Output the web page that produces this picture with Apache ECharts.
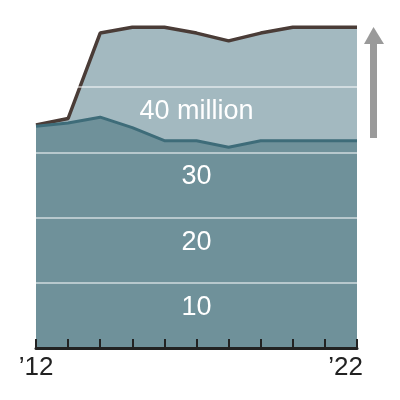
<!DOCTYPE html>
<html><head><meta charset="utf-8">
<script src="https://cdn.jsdelivr.net/npm/echarts@6/dist/echarts.min.js"></script>
<style>html,body{margin:0;padding:0;background:#fff}#c{width:400px;height:400px}</style>
</head><body><div id="c"></div>
<script>
const years = ['2012','2013','2014','2015','2016','2017','2018','2019','2020','2021','2022'];
const xTickLabels = {'2012':'\u201912','2022':'\u201922'};
const totalValues = [34.2, 35.2, 48.3, 49.2, 49.2, 48.3, 47.1, 48.3, 49.2, 49.2, 49.2];
const baseValues  = [34.0, 34.5, 35.4, 33.8, 31.8, 31.8, 30.8, 31.8, 31.8, 31.8, 31.8];
const gridValues = [10, 20, 30, 40];
const gridLabels = ['10', '20', '30', '40 million'];

const chart = echarts.init(document.getElementById('c'), null, {renderer:'canvas'});
const font = '"Liberation Sans", Arial, sans-serif';
chart.setOption({
  animation: false,
  grid: {left: 36, right: 43, top: 22, bottom: 52},
  xAxis: {
    type: 'category', data: years, boundaryGap: false, z: 10,
    axisLine: {show: true, lineStyle: {color: '#222', width: 3}},
    axisTick: {show: true, inside: true, length: 9, lineStyle: {color: '#222', width: 2}, interval: 0},
    axisLabel: {
      interval: 0, margin: 7, fontSize: 26, color: '#222', fontFamily: font,
      formatter: v => v === years[years.length - 1] ? '{e|' + xTickLabels[v] + '}' : (xTickLabels[v] || ''),
      rich: {e: {fontSize: 26, color: '#222', fontFamily: font, padding: [0, 23, 0, 0]}}
    },
    splitLine: {show: false}
  },
  yAxis: {type: 'value', min: 0, max: 50, show: false, splitLine: {show: false}},
  series: [
    {
      type: 'line', data: totalValues, symbol: 'none', z: 2,
      lineStyle: {color: '#4a3c37', width: 3.5},
      areaStyle: {color: '#a3b9c0', opacity: 1}
    },
    {
      type: 'line', data: baseValues, symbol: 'none', z: 3,
      lineStyle: {color: '#3e6c79', width: 3},
      areaStyle: {color: '#6f919a', opacity: 1},
      markLine: {
        silent: true, symbol: 'none',
        lineStyle: {color: 'rgba(255,255,255,0.5)', width: 2, type: 'solid'},
        label: {position: 'insideMiddleBottom', distance: 11, color: '#fff', fontSize: 27, fontFamily: font},
        data: gridValues.map((v, i) => ({yAxis: v, label: {formatter: gridLabels[i]}}))
      }
    }
  ],
  graphic: [
    {type: 'rect', shape: {x: 370, y: 42, width: 7, height: 96}, style: {fill: '#9a9a9a'}},
    {type: 'polygon', shape: {points: [[373.5, 27], [364, 44], [384, 44]]}, style: {fill: '#9a9a9a'}}
  ]
});
</script></body></html>
